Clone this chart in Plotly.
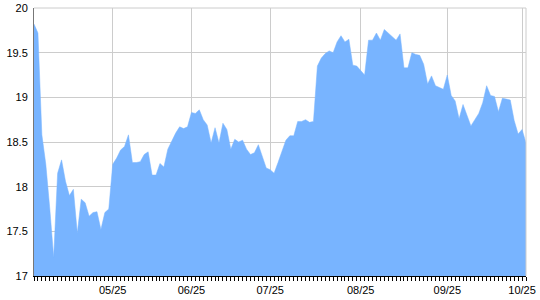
import plotly.graph_objects as go

# Trading-day index positions and values
values = [
    19.82, 19.72, 18.58, 18.25, 17.76, 17.21, 18.15, 18.30, 18.06, 17.90,
    17.97, 17.48, 17.86, 17.82, 17.67, 17.71, 17.72, 17.52, 17.71, 17.75,
    18.25, 18.32, 18.41, 18.45, 18.58, 18.27, 18.27, 18.28, 18.36, 18.39,
    18.13, 18.13, 18.26, 18.22, 18.42, 18.52, 18.60, 18.67, 18.65, 18.67,
    18.83, 18.82, 18.86, 18.75, 18.69, 18.49, 18.66, 18.49, 18.71, 18.64,
    18.42, 18.53, 18.50, 18.52, 18.42, 18.36, 18.38, 18.47, 18.34, 18.21,
    18.19, 18.15, 18.27, 18.40, 18.52, 18.57, 18.57, 18.73, 18.73, 18.75,
    18.72, 18.73, 19.35, 19.44, 19.49, 19.52, 19.50, 19.62, 19.69, 19.62,
    19.65, 19.36, 19.35, 19.30, 19.25, 19.64, 19.64, 19.72, 19.64, 19.76,
    19.72, 19.68, 19.64, 19.71, 19.33, 19.33, 19.50, 19.48, 19.47, 19.37,
    19.15, 19.24, 19.13, 19.11, 19.09, 19.25, 19.02, 18.96, 18.76, 18.92,
    18.81, 18.68, 18.75, 18.82, 18.94, 19.13, 19.02, 19.01, 18.84, 18.99,
    18.98, 18.97, 18.74, 18.59, 18.64, 18.49,
]
x_index = list(range(len(values)))

tick_index = [20, 40, 60, 83, 105, 124]
tick_labels = ["05/25", "06/25", "07/25", "08/25", "09/25", "10/25"]

y_ticks = [17, 17.5, 18, 18.5, 19, 19.5, 20]
y_labels = ["17", "17.5", "18", "18.5", "19", "19.5", "20"]

fill_color = "#78b4ff"
grid_color = "#cccccc"

fig = go.Figure()
fig.add_trace(go.Scatter(
    x=x_index, y=values, mode="lines",
    line=dict(color=fill_color, width=0.5),
    fill="tozeroy", fillcolor=fill_color,
    hoverinfo="skip",
))

fig.update_layout(
    width=540, height=300,
    margin=dict(l=34, r=14, t=8, b=24, autoexpand=False),
    paper_bgcolor="white", plot_bgcolor="white",
    showlegend=False,
    font=dict(family="Liberation Sans, Arial, sans-serif", size=11, color="#000"),
    xaxis=dict(
        range=[0, len(values) - 1],
        tickmode="array", tickvals=tick_index, ticktext=tick_labels,
        showgrid=True, gridcolor=grid_color, gridwidth=1,
        ticks="outside", ticklen=4, tickcolor="#000", tickwidth=1,
        showline=True, linecolor="#000", linewidth=1,
        zeroline=False, automargin=False,
        minor=dict(tickmode="linear", tick0=0, dtick=1, ticks="outside",
                   ticklen=4, tickcolor="#000", tickwidth=1, showgrid=False),
        fixedrange=True,
    ),
    yaxis=dict(
        range=[17, 20],
        tickmode="array", tickvals=y_ticks, ticktext=y_labels,
        showgrid=True, gridcolor=grid_color, gridwidth=1,
        ticks="", showline=True, linecolor="#777777", linewidth=1,
        zeroline=False, ticklabelstandoff=3, automargin=False,
        fixedrange=True,
    ),
    shapes=[
        dict(type="line", xref="paper", yref="paper", x0=0, x1=1, y0=1, y1=1,
             line=dict(color=grid_color, width=1), layer="above"),
        dict(type="line", xref="paper", yref="paper", x0=1, x1=1, y0=0, y1=1,
             line=dict(color=grid_color, width=1), layer="above"),
    ],
)

fig.write_html("out.html")
